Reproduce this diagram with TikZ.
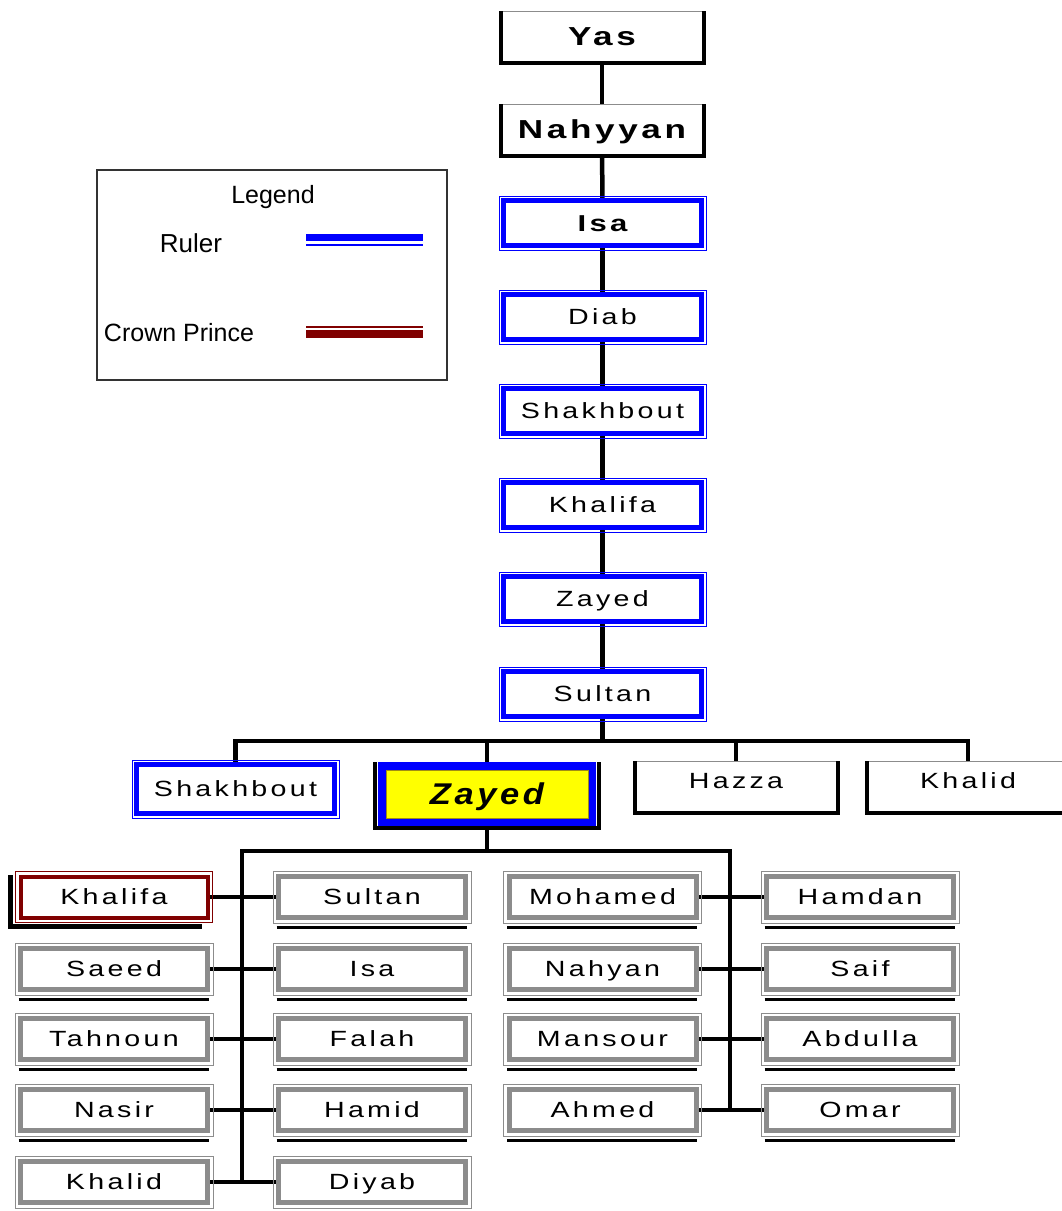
\documentclass[tikz,border=0pt]{standalone}
\usepackage{fontspec}
\setmainfont{Liberation Sans}
\newfontfamily\spaced[LetterSpace=15,FakeStretch=1.3]{Liberation Sans}
\newfontfamily\spacedb[LetterSpace=14,FakeStretch=1.35]{Liberation Sans}
\newfontfamily\zayedfont[LetterSpace=12,FakeStretch=1.15]{Liberation Sans}
\usetikzlibrary{backgrounds}
\definecolor{maroon}{RGB}{128,0,0}
\definecolor{framegray}{RGB}{140,140,140}
\definecolor{rblue}{RGB}{0,0,255}
\definecolor{zyellow}{RGB}{255,255,0}
\definecolor{zolive}{RGB}{160,140,20}
\newcommand\outerframe[3]{\draw[line width=1pt,#2] ([shift={(-#3,#3)}]#1.north west) rectangle ([shift={(#3,-#3)}]#1.south east);}
\newcommand\ushadow[1]{\draw[line width=4pt,black] ([shift={(-1.5,0)}]#1.north west) -- ([shift={(-1.5,-1.5)}]#1.south west) -- ([shift={(1.5,-1.5)}]#1.south east) -- ([shift={(1.5,0)}]#1.north east);}
\newcommand\bottomshadow[1]{\draw[line width=3pt,black] ([shift={(-2,-10)}]#1.south west) -- ([shift={(1,-10)}]#1.south east);}
\tikzset{
  conn/.style={line width=4.5pt,black},
  txt/.style={font=\fontsize{22}{26}\selectfont\spaced,text height=15.8pt,text depth=0pt},
  btxt/.style={font=\fontsize{26}{30}\selectfont\spacedb\bfseries,text height=18.7pt,text depth=0pt},
  isatxt/.style={font=\fontsize{23}{27}\selectfont\spacedb\bfseries,text height=16.5pt,text depth=0pt},
  legtxt/.style={font=\fontsize{25}{30}\selectfont,inner sep=0pt},
  plainbox/.style={draw=framegray,line width=0.8pt,fill=white,minimum width=200,minimum height=50,inner sep=0pt,outer sep=0pt,txt},
  rulerbox/.style={draw=rblue,line width=5pt,fill=white,minimum width=198,minimum height=45,inner sep=0pt,outer sep=0pt,txt},
  childbox/.style={draw=framegray,line width=5pt,fill=white,minimum width=187,minimum height=41,inner sep=0pt,outer sep=0pt,txt},
  princebox/.style={childbox,draw=maroon,line width=4pt},
  zayedbox/.style={draw=zolive,line width=1pt,fill=zyellow,minimum width=202,minimum height=48,inner sep=0pt,outer sep=0pt,
     preaction={draw=rblue,line width=16pt},font=\fontsize{30}{34}\selectfont\zayedfont\bfseries\itshape,text height=21.5pt,text depth=0pt},
}
\begin{document}
\begin{tikzpicture}[x=1pt,y=1pt]
\useasboundingbox (0,0) rectangle (1062,-1211);
% legend
\node[draw=black!80,line width=1.5pt,minimum width=350,minimum height=210,inner sep=0pt] (legend) at (272,-275) {};
\node[legtxt] (legtitle) at (273,-197) {Legend};
\node[legtxt,font=\fontsize{26}{30}\selectfont] (legruler) at (191,-243) {Ruler};
\node[legtxt] (legcp) at (179,-333) {Crown Prince};
\draw[rblue,line width=7pt] (306,-237) -- (423,-237);
\draw[rblue,line width=2.5pt] (306,-245) -- (423,-245);
\draw[maroon,line width=2pt] (306,-327) -- (423,-327);
\draw[maroon,line width=8pt] (306,-334) -- (423,-334);
% spine
\node[plainbox,btxt] (yas) at (602,-36) {Yas};
\node[plainbox,btxt] (nahyyan) at (602,-129) {Nahyyan};
\node[rulerbox,isatxt] (isa) at (602.5,-223) {Isa};
\node[rulerbox] (diab) at (602.5,-317) {Diab};
\node[rulerbox] (shakA) at (602.5,-411) {Shakhbout};
\node[rulerbox] (khalA) at (602.5,-505) {Khalifa};
\node[rulerbox] (zayA) at (602.5,-599) {Zayed};
\node[rulerbox] (sultanA) at (602.5,-694) {Sultan};
\ushadow{yas}
\ushadow{nahyyan}
\foreach \n in {isa,diab,shakA,khalA,zayA,sultanA}{\outerframe{\n}{rblue}{4.5}}
% level 2
\node[rulerbox,minimum height=49] (shakB) at (235.5,-789) {Shakhbout};
\node[zayedbox] (zayB) at (487,-794) {Zayed};
\draw[line width=4pt,black] ([shift={(-11,8)}]zayB.north west) -- ([shift={(-11,-10)}]zayB.south west) -- ([shift={(11,-10)}]zayB.south east) -- ([shift={(11,8)}]zayB.north east);
\node[plainbox,text depth=10pt] (hazza) at (736,-786) {Hazza};
\node[plainbox,text depth=10pt] (khalidB) at (968,-786) {Khalid};
\ushadow{hazza}
\ushadow{khalidB}
\outerframe{shakB}{rblue}{4.5}
% level 3
\node[princebox] (c11) at (114,-897) {Khalifa};
\node[childbox] (c21) at (372,-897) {Sultan};
\node[childbox] (c31) at (602.5,-897) {Mohamed};
\node[childbox] (c41) at (860,-897) {Hamdan};
\node[childbox] (c12) at (114,-969) {Saeed};
\node[childbox] (c22) at (372,-969) {Isa};
\node[childbox] (c32) at (602.5,-969) {Nahyan};
\node[childbox] (c42) at (860,-969) {Saif};
\node[childbox] (c13) at (114,-1039) {Tahnoun};
\node[childbox] (c23) at (372,-1039) {Falah};
\node[childbox] (c33) at (602.5,-1039) {Mansour};
\node[childbox] (c43) at (860,-1039) {Abdulla};
\node[childbox] (c14) at (114,-1110) {Nasir};
\node[childbox] (c24) at (372,-1110) {Hamid};
\node[childbox] (c34) at (602.5,-1110) {Ahmed};
\node[childbox] (c44) at (860,-1110) {Omar};
\node[childbox] (c15) at (114,-1182) {Khalid};
\node[childbox] (c25) at (372,-1182) {Diyab};
\outerframe{c11}{maroon}{5}
\draw[line width=5pt,black] ([shift={(-10,1.5)}]c11.north west) -- ([shift={(-10,-9)}]c11.south west) -- ([shift={(-6,-9)}]c11.south east);
\foreach \n in {c21,c31,c41,c12,c22,c32,c42,c13,c23,c33,c43,c14,c24,c34,c44,c15,c25}{\outerframe{\n}{framegray}{5.5}\bottomshadow{\n}}
% connectors
\coordinate (j1) at (602.5,-741);
\coordinate (j2) at (487,-851);
\coordinate (spL) at (242,-851);
\coordinate (spR) at (730,-851);
\begin{pgfonlayer}{background}
\fill[white] (0,0) rectangle (1062,-1211);
\draw[conn] (yas) -- (nahyyan);
\draw[conn] (nahyyan) -- (isa);
\draw[conn] (isa) -- (diab);
\draw[conn] (diab) -- (shakA);
\draw[conn] (shakA) -- (khalA);
\draw[conn] (khalA) -- (zayA);
\draw[conn] (zayA) -- (sultanA);
\draw[conn] (sultanA) -- (j1);
\draw[conn] (shakB.north) |- (j1) -| (khalidB.north);
\draw[conn] (zayB.north) -- (zayB.north |- j1);
\draw[conn] (hazza.north) -- (hazza.north |- j1);
\draw[conn] (zayB.south) -- (j2);
\draw[conn] (spL |- c15.east) -- (spL) -- (spR) -- (spR |- c34.east);
\draw[conn] (c11.east) -- (c21.west);
\draw[conn] (c12.east) -- (c22.west);
\draw[conn] (c13.east) -- (c23.west);
\draw[conn] (c14.east) -- (c24.west);
\draw[conn] (c15.east) -- (c25.west);
\draw[conn] (c31.east) -- (c41.west);
\draw[conn] (c32.east) -- (c42.west);
\draw[conn] (c33.east) -- (c43.west);
\draw[conn] (c34.east) -- (c44.west);
\end{pgfonlayer}
\end{tikzpicture}
\end{document}
